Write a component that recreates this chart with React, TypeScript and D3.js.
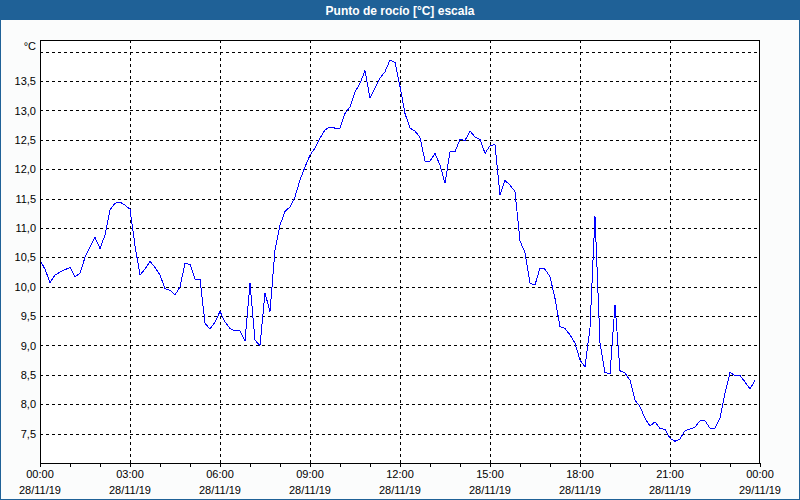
import * as d3 from "d3";
import React, { useEffect, useRef } from "react";

// dew point, one sample every 10 minutes from 28/11/19 00:00
const startTime = new Date(2019, 10, 28, 0, 0);
const endTime = new Date(2019, 10, 29, 0, 0);
const sampleMinutes = 10;
const dewPoint = [
  10.45, 10.3, 10.07, 10.2, 10.25, 10.29, 10.33, 10.17, 10.23, 10.5, 10.68, 10.84,
  10.65, 10.88, 11.31, 11.42, 11.44, 11.39, 11.32, 10.7, 10.2, 10.3, 10.43, 10.33,
  10.2, 9.97, 9.94, 9.86, 10.0, 10.4, 10.38, 10.13, 10.13, 9.38, 9.28, 9.4,
  9.58, 9.4, 9.29, 9.25, 9.25, 9.08, 10.06, 9.09, 9.0, 9.89, 9.58, 10.63,
  11.05, 11.28, 11.36, 11.53, 11.82, 12.04, 12.24, 12.36, 12.53, 12.67, 12.72, 12.7,
  12.7, 12.95, 13.06, 13.32, 13.46, 13.68, 13.21, 13.38, 13.55, 13.66, 13.86, 13.82,
  13.41, 12.95, 12.7, 12.65, 12.54, 12.14, 12.14, 12.27, 12.07, 11.76, 12.3, 12.3,
  12.51, 12.49, 12.65, 12.55, 12.51, 12.27, 12.4, 12.42, 11.56, 11.81, 11.73, 11.62,
  10.78, 10.58, 10.06, 10.03, 10.32, 10.3, 10.17, 9.8, 9.32, 9.29, 9.18, 9.04,
  8.75, 8.64, 9.3, 11.2, 9.04, 8.54, 8.52, 9.69, 8.57, 8.53, 8.41, 8.07,
  7.96, 7.76, 7.63, 7.7, 7.59, 7.57, 7.42, 7.37, 7.41, 7.55, 7.58, 7.61,
  7.72, 7.72, 7.59, 7.59, 7.76, 8.19, 8.54, 8.49, 8.49, 8.38, 8.26, 8.41,
];
const yTicks = [7.5, 8, 8.5, 9, 9.5, 10, 10.5, 11, 11.5, 12, 12.5, 13, 13.5, 14];
const yLabels = ["7,5", "8,0", "8,5", "9,0", "9,5", "10,0", "10,5", "11,0", "11,5", "12,0", "12,5", "13,0", "13,5", "°C"];
const title = "Punto de rocío [°C] escala";

const width = 800;
const height = 500;
const margin = { top: 40, right: 40, bottom: 37, left: 40 };
const font = "'Liberation Sans', Arial, sans-serif";

const App: React.FC = () => {
  const ref = useRef<SVGSVGElement>(null);

  useEffect(() => {
    const svg = d3.select(ref.current);
    const x = d3.scaleTime().domain([startTime, endTime]).range([margin.left, width - margin.right]);
    const y = d3.scaleLinear().domain([7.0, 14.2]).range([height - margin.bottom, margin.top]);

    svg.append("rect").attr("x", 0.5).attr("y", 0.5).attr("width", width - 1).attr("height", height - 1)
      .attr("fill", "#fbfcfc").attr("stroke", "#1f6197");
    svg.append("rect").attr("x", 0).attr("y", 0).attr("width", width).attr("height", 20).attr("fill", "#1f6197");
    svg.append("text").attr("x", width / 2).attr("y", 14.5).attr("text-anchor", "middle")
      .attr("fill", "#fff").attr("font-family", font).attr("font-weight", "bold").attr("font-size", 12)
      .text(title);

    const plotW = width - margin.left - margin.right;
    const plotH = height - margin.top - margin.bottom;
    svg.append("rect").attr("x", margin.left).attr("y", margin.top).attr("width", plotW).attr("height", plotH)
      .attr("fill", "#ffffff");

    const grid = svg.append("g").attr("stroke", "#000").attr("stroke-dasharray", "3,3")
      .attr("shape-rendering", "crispEdges");
    grid.selectAll("line.h").data(yTicks).enter().append("line").attr("class", "h")
      .attr("x1", margin.left).attr("x2", width - margin.right)
      .attr("y1", (d) => Math.round(y(d)) + 0.5).attr("y2", (d) => Math.round(y(d)) + 0.5);
    const vTicks = x.ticks(d3.timeHour.every(3)!).filter((t) => +t > +startTime && +t < +endTime);
    grid.selectAll("line.v").data(vTicks).enter().append("line").attr("class", "v")
      .attr("y1", margin.top).attr("y2", height - margin.bottom)
      .attr("x1", (d) => Math.round(x(d)) + 0.5).attr("x2", (d) => Math.round(x(d)) + 0.5);

    const line = d3.line<number>()
      .x((_, i) => x(d3.timeMinute.offset(startTime, i * sampleMinutes)))
      .y((d) => y(d));
    svg.append("path").datum(dewPoint).attr("d", line).attr("fill", "none")
      .attr("stroke", "#0000ff").attr("stroke-width", 1).attr("shape-rendering", "crispEdges");

    svg.append("rect").attr("x", margin.left + 0.5).attr("y", margin.top + 0.5).attr("width", plotW - 1)
      .attr("height", plotH).attr("fill", "none").attr("stroke", "#000").attr("shape-rendering", "crispEdges");

    // hourly ticks under the time axis
    const xAxis = d3.axisBottom(x).ticks(d3.timeHour.every(1)!).tickSize(4).tickFormat(() => "");
    const gx = svg.append("g").attr("transform", `translate(0,${height - margin.bottom})`).call(xAxis);
    gx.select(".domain").remove();
    gx.selectAll("line").attr("stroke", "#000").attr("shape-rendering", "crispEdges");

    const fmtTime = d3.timeFormat("%H:%M");
    const fmtDate = d3.timeFormat("%d/%m/%y");
    const labels = svg.append("g").attr("font-family", font).attr("font-size", 11).attr("fill", "#000")
      .attr("text-anchor", "middle");
    const xLabelTicks = x.ticks(d3.timeHour.every(3)!);
    labels.selectAll("text.t").data(xLabelTicks).enter().append("text").attr("class", "t")
      .attr("x", (d) => x(d)).attr("y", 478).text((d) => fmtTime(d));
    labels.selectAll("text.d").data(xLabelTicks).enter().append("text").attr("class", "d")
      .attr("x", (d) => x(d)).attr("y", 494).text((d) => fmtDate(d));

    svg.append("g").attr("font-family", font).attr("font-size", 11).attr("fill", "#000")
      .attr("text-anchor", "end")
      .selectAll("text").data(yTicks).enter().append("text")
      .attr("x", 36).attr("y", (d, i) => (i === yTicks.length - 1 ? y(d) - 2 : y(d) + 4))
      .text((_, i) => yLabels[i]);

    return () => {
      svg.selectAll("*").remove();
    };
  }, []);

  return (
    <svg ref={ref} width={width} height={height}
      style={{ position: "absolute", left: 0, top: 0, display: "block" }} />
  );
};

export default App;
